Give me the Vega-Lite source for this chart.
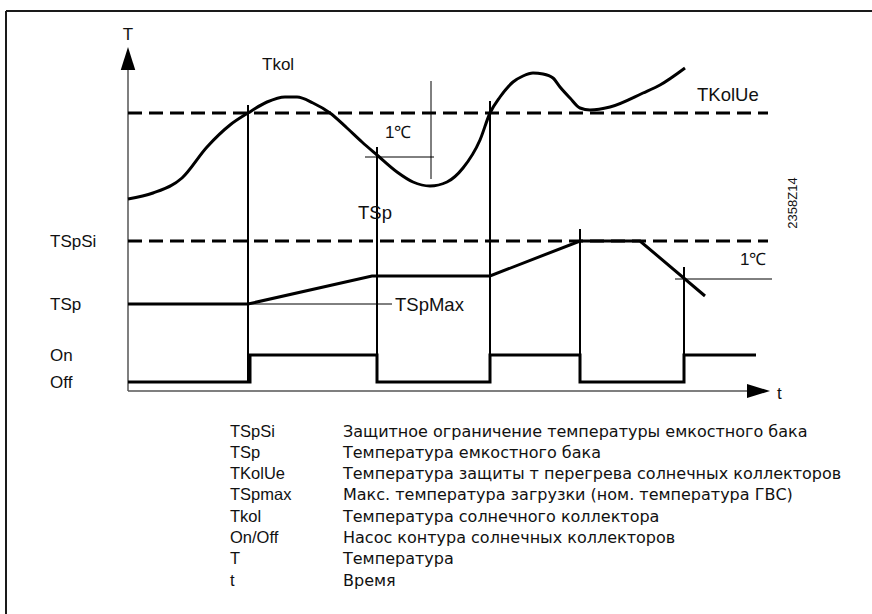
{
  "$schema": "https://vega.github.io/schema/vega-lite/v6.json",
  "width": 872,
  "height": 614,
  "autosize": {"type": "none"},
  "padding": 0,
  "background": "white",
  "config": {"view": {"stroke": null}},
  "datasets": {
    "paths": [
      {"id": "f1", "kind": "frame", "i": 0, "time": -122, "temp": 380},
      {"id": "f1", "kind": "frame", "i": 1, "time": 744, "temp": 380},
      {"id": "f2", "kind": "frame", "i": 0, "time": -122, "temp": 380},
      {"id": "f2", "kind": "frame", "i": 1, "time": -122, "temp": -223},
      {"id": "a1", "kind": "axis", "i": 0, "time": 0, "temp": 321},
      {"id": "a1", "kind": "axis", "i": 1, "time": 0, "temp": 0},
      {"id": "a2", "kind": "axis", "i": 0, "time": 0, "temp": 0},
      {"id": "a2", "kind": "axis", "i": 1, "time": 622, "temp": 0},
      {"id": "TKolUe", "kind": "limit", "i": 0, "time": 0, "temp": 278},
      {"id": "TKolUe", "kind": "limit", "i": 1, "time": 640, "temp": 278},
      {"id": "TSpSi", "kind": "limit", "i": 0, "time": 0, "temp": 150},
      {"id": "TSpSi", "kind": "limit", "i": 1, "time": 640, "temp": 150},
      {"id": "Tkol", "kind": "curve", "i": 0, "time": 0, "temp": 192},
      {"id": "Tkol", "kind": "curve", "i": 1, "time": 25, "temp": 198},
      {"id": "Tkol", "kind": "curve", "i": 2, "time": 54, "temp": 213},
      {"id": "Tkol", "kind": "curve", "i": 3, "time": 79, "temp": 244},
      {"id": "Tkol", "kind": "curve", "i": 4, "time": 102, "temp": 266},
      {"id": "Tkol", "kind": "curve", "i": 5, "time": 120, "temp": 278},
      {"id": "Tkol", "kind": "curve", "i": 6, "time": 139, "temp": 289},
      {"id": "Tkol", "kind": "curve", "i": 7, "time": 157, "temp": 294},
      {"id": "Tkol", "kind": "curve", "i": 8, "time": 169, "temp": 294},
      {"id": "Tkol", "kind": "curve", "i": 9, "time": 185, "temp": 288},
      {"id": "Tkol", "kind": "curve", "i": 10, "time": 202, "temp": 278},
      {"id": "Tkol", "kind": "curve", "i": 11, "time": 219, "temp": 263},
      {"id": "Tkol", "kind": "curve", "i": 12, "time": 234, "temp": 249},
      {"id": "Tkol", "kind": "curve", "i": 13, "time": 249, "temp": 236},
      {"id": "Tkol", "kind": "curve", "i": 14, "time": 269, "temp": 219},
      {"id": "Tkol", "kind": "curve", "i": 15, "time": 285, "temp": 209},
      {"id": "Tkol", "kind": "curve", "i": 16, "time": 302, "temp": 205},
      {"id": "Tkol", "kind": "curve", "i": 17, "time": 319, "temp": 209},
      {"id": "Tkol", "kind": "curve", "i": 18, "time": 335, "temp": 223},
      {"id": "Tkol", "kind": "curve", "i": 19, "time": 352, "temp": 251},
      {"id": "Tkol", "kind": "curve", "i": 20, "time": 362, "temp": 278},
      {"id": "Tkol", "kind": "curve", "i": 21, "time": 372, "temp": 294},
      {"id": "Tkol", "kind": "curve", "i": 22, "time": 385, "temp": 309},
      {"id": "Tkol", "kind": "curve", "i": 23, "time": 395, "temp": 315},
      {"id": "Tkol", "kind": "curve", "i": 24, "time": 405, "temp": 318},
      {"id": "Tkol", "kind": "curve", "i": 25, "time": 415, "temp": 317},
      {"id": "Tkol", "kind": "curve", "i": 26, "time": 425, "temp": 313},
      {"id": "Tkol", "kind": "curve", "i": 27, "time": 432, "temp": 304},
      {"id": "Tkol", "kind": "curve", "i": 28, "time": 442, "temp": 293},
      {"id": "Tkol", "kind": "curve", "i": 29, "time": 452, "temp": 283},
      {"id": "Tkol", "kind": "curve", "i": 30, "time": 462, "temp": 281},
      {"id": "Tkol", "kind": "curve", "i": 31, "time": 482, "temp": 284},
      {"id": "Tkol", "kind": "curve", "i": 32, "time": 515, "temp": 298},
      {"id": "Tkol", "kind": "curve", "i": 33, "time": 532, "temp": 306},
      {"id": "Tkol", "kind": "curve", "i": 34, "time": 557, "temp": 323},
      {"id": "TSp", "kind": "signal", "i": 0, "time": 0, "temp": 87},
      {"id": "TSp", "kind": "signal", "i": 1, "time": 120, "temp": 87},
      {"id": "TSp", "kind": "signal", "i": 2, "time": 244, "temp": 115},
      {"id": "TSp", "kind": "signal", "i": 3, "time": 362, "temp": 115},
      {"id": "TSp", "kind": "signal", "i": 4, "time": 452, "temp": 150},
      {"id": "TSp", "kind": "signal", "i": 5, "time": 512, "temp": 150},
      {"id": "TSp", "kind": "signal", "i": 6, "time": 577, "temp": 95},
      {"id": "pump", "kind": "signal", "i": 0, "time": 0, "temp": 9},
      {"id": "pump", "kind": "signal", "i": 1, "time": 122, "temp": 9},
      {"id": "pump", "kind": "signal", "i": 2, "time": 122, "temp": 36},
      {"id": "pump", "kind": "signal", "i": 3, "time": 249, "temp": 36},
      {"id": "pump", "kind": "signal", "i": 4, "time": 249, "temp": 9},
      {"id": "pump", "kind": "signal", "i": 5, "time": 362, "temp": 9},
      {"id": "pump", "kind": "signal", "i": 6, "time": 362, "temp": 36},
      {"id": "pump", "kind": "signal", "i": 7, "time": 452, "temp": 36},
      {"id": "pump", "kind": "signal", "i": 8, "time": 452, "temp": 9},
      {"id": "pump", "kind": "signal", "i": 9, "time": 556, "temp": 9},
      {"id": "pump", "kind": "signal", "i": 10, "time": 556, "temp": 36},
      {"id": "pump", "kind": "signal", "i": 11, "time": 628, "temp": 36},
      {"id": "v1", "kind": "switch", "i": 0, "time": 120, "temp": 286},
      {"id": "v1", "kind": "switch", "i": 1, "time": 120, "temp": 9},
      {"id": "v2", "kind": "switch", "i": 0, "time": 249, "temp": 244},
      {"id": "v2", "kind": "switch", "i": 1, "time": 249, "temp": 9},
      {"id": "v3", "kind": "switch", "i": 0, "time": 362, "temp": 290},
      {"id": "v3", "kind": "switch", "i": 1, "time": 362, "temp": 9},
      {"id": "v4", "kind": "switch", "i": 0, "time": 452, "temp": 162},
      {"id": "v4", "kind": "switch", "i": 1, "time": 452, "temp": 9},
      {"id": "v5", "kind": "switch", "i": 0, "time": 556, "temp": 124},
      {"id": "v5", "kind": "switch", "i": 1, "time": 556, "temp": 9},
      {"id": "h1", "kind": "thin", "i": 0, "time": 237, "temp": 234},
      {"id": "h1", "kind": "thin", "i": 1, "time": 306, "temp": 234},
      {"id": "d1", "kind": "thin", "i": 0, "time": 303, "temp": 310},
      {"id": "d1", "kind": "thin", "i": 1, "time": 303, "temp": 212},
      {"id": "h2", "kind": "thin", "i": 0, "time": 547, "temp": 112},
      {"id": "h2", "kind": "thin", "i": 1, "time": 644, "temp": 112},
      {"id": "max", "kind": "thin", "i": 0, "time": 120, "temp": 87},
      {"id": "max", "kind": "thin", "i": 1, "time": 264, "temp": 87}
    ],
    "arrows": [
      {"dir": "up", "time": 0, "temp": 332.5},
      {"dir": "right", "time": 630.5, "temp": 0}
    ],
    "labels": [
      {"text": "Tkol", "time": 134, "temp": 326},
      {"text": "1℃", "time": 257, "temp": 258},
      {"text": "TSpSi", "time": -78, "temp": 149},
      {"text": "TSp", "time": -78, "temp": 86},
      {"text": "On", "time": -78, "temp": 35},
      {"text": "Off", "time": -78, "temp": 8},
      {"text": "1℃", "time": 612, "temp": 131},
      {"text": "t", "time": 649, "temp": -3}
    ],
    "biglabels": [
      {"text": "TKolUe", "time": 569, "temp": 296},
      {"text": "TSp", "time": 230, "temp": 178},
      {"text": "TSpMax", "time": 267, "temp": 86}
    ],
    "legend": [
      {"key": "TSpSi", "desc": "Защитное ограничение температуры емкостного бака", "temp": -40.5},
      {"key": "TSp", "desc": "Температура емкостного бака", "temp": -61.8},
      {"key": "TKolUe", "desc": "Температура защиты т перегрева солнечных коллекторов", "temp": -83.1},
      {"key": "TSpmax", "desc": " Макс. температура загрузки (ном. температура ГВС)", "temp": -104.4},
      {"key": "Tkol", "desc": "Температура солнечного коллектора", "temp": -125.7},
      {"key": "On/Off", "desc": "Насос контура солнечных коллекторов", "temp": -147},
      {"key": "T", "desc": "Температура", "temp": -168.3},
      {"key": "t", "desc": "Время", "temp": -189.6}
    ]
  },
  "encoding": {
    "x": {"field": "time", "type": "quantitative", "axis": null, "scale": {"domain": [-128, 744], "nice": false, "zero": false}},
    "y": {"field": "temp", "type": "quantitative", "axis": null, "scale": {"domain": [-223, 391], "nice": false, "zero": false}}
  },
  "layer": [
    {
      "data": {"name": "paths"},
      "transform": [{"filter": "datum.kind === 'frame'"}],
      "mark": {"type": "line", "color": "#1a1a1a", "strokeWidth": 2},
      "encoding": {"detail": {"field": "id"}, "order": {"field": "i"}}
    },
    {
      "data": {"name": "paths"},
      "transform": [{"filter": "datum.kind === 'axis'"}],
      "mark": {"type": "line", "color": "#555555", "strokeWidth": 1.5},
      "encoding": {"detail": {"field": "id"}, "order": {"field": "i"}}
    },
    {
      "data": {"name": "arrows"},
      "mark": {"type": "point", "filled": true, "opacity": 1, "color": "#000000", "size": 529},
      "encoding": {
        "shape": {"field": "dir", "type": "nominal", "legend": null,
          "scale": {"domain": ["up", "right"], "range": ["M0,-1L0.63,1L-0.63,1Z", "M1,0L-1,0.6L-1,-0.6Z"]}}
      }
    },
    {
      "data": {"name": "paths"},
      "transform": [{"filter": "datum.kind === 'limit'"}],
      "mark": {"type": "line", "color": "#000000", "strokeWidth": 3, "strokeDash": [14, 7]},
      "encoding": {"detail": {"field": "id"}, "order": {"field": "i"}}
    },
    {
      "data": {"name": "paths"},
      "transform": [{"filter": "datum.kind === 'curve'"}],
      "mark": {"type": "line", "color": "#000000", "strokeWidth": 3, "interpolate": "monotone"},
      "encoding": {"detail": {"field": "id"}, "order": {"field": "i"}}
    },
    {
      "data": {"name": "paths"},
      "transform": [{"filter": "datum.kind === 'signal'"}],
      "mark": {"type": "line", "color": "#000000", "strokeWidth": 3},
      "encoding": {"detail": {"field": "id"}, "order": {"field": "i"}}
    },
    {
      "data": {"name": "paths"},
      "transform": [{"filter": "datum.kind === 'switch'"}],
      "mark": {"type": "line", "color": "#000000", "strokeWidth": 2},
      "encoding": {"detail": {"field": "id"}, "order": {"field": "i"}}
    },
    {
      "data": {"name": "paths"},
      "transform": [{"filter": "datum.kind === 'thin'"}],
      "mark": {"type": "line", "color": "#000000", "strokeWidth": 1},
      "encoding": {"detail": {"field": "id"}, "order": {"field": "i"}}
    },
    {
      "data": {"values": [{"text": "T", "time": 0, "temp": 356}]},
      "mark": {"type": "text", "align": "center", "baseline": "middle", "font": "Liberation Sans", "fontSize": 17, "color": "#111111"},
      "encoding": {"text": {"field": "text"}}
    },
    {
      "data": {"name": "labels"},
      "mark": {"type": "text", "align": "left", "baseline": "middle", "font": "Liberation Sans", "fontSize": 17, "color": "#111111"},
      "encoding": {"text": {"field": "text"}}
    },
    {
      "data": {"name": "biglabels"},
      "mark": {"type": "text", "align": "left", "baseline": "middle", "font": "Liberation Sans", "fontSize": 18.5, "color": "#111111"},
      "encoding": {"text": {"field": "text"}}
    },
    {
      "data": {"values": [{"text": "2358Z14", "time": 665, "temp": 188}]},
      "mark": {"type": "text", "align": "center", "baseline": "middle", "angle": 270, "font": "Liberation Sans", "fontSize": 13, "color": "#111111"},
      "encoding": {"text": {"field": "text"}}
    },
    {
      "data": {"name": "legend"},
      "transform": [{"calculate": "102", "as": "time"}],
      "mark": {"type": "text", "align": "left", "baseline": "middle", "font": "Liberation Sans", "fontSize": 16.5, "color": "#111111"},
      "encoding": {"text": {"field": "key"}}
    },
    {
      "data": {"name": "legend"},
      "transform": [{"calculate": "215", "as": "time"}],
      "mark": {"type": "text", "align": "left", "baseline": "middle", "font": "DejaVu Sans", "fontSize": 16, "color": "#111111"},
      "encoding": {"text": {"field": "desc"}}
    }
  ]
}
